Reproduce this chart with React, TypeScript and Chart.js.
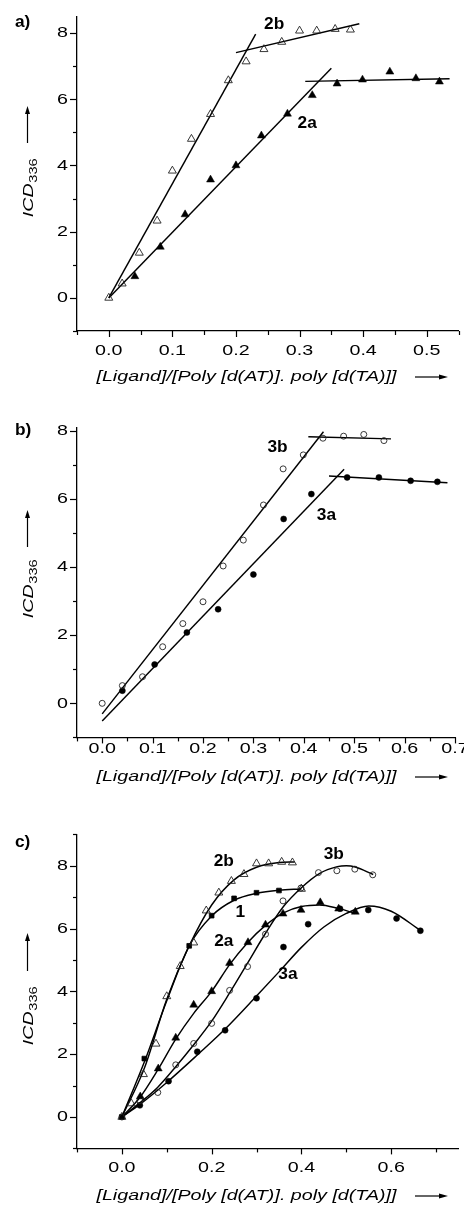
import React, { useEffect, useRef } from 'react';
import { Chart, registerables } from 'chart.js';
Chart.register(...registerables);

// ---------------- Data ----------------
// Compound 2b (open triangles)
const ratio2b = [0, 0.021, 0.048, 0.076, 0.1, 0.13, 0.16, 0.188, 0.216, 0.244, 0.272, 0.3, 0.327, 0.356, 0.38];
const cd2b = [0, 0.43, 1.36, 2.33, 3.84, 4.8, 5.55, 6.57, 7.14, 7.51, 7.73, 8.07, 8.07, 8.12, 8.1];
// Compound 2a (filled triangles)
const ratio2a = [0.041, 0.081, 0.12, 0.16, 0.2, 0.24, 0.281, 0.32, 0.359, 0.399, 0.442, 0.483, 0.52];
const cd2a = [0.65, 1.54, 2.52, 3.57, 4.0, 4.9, 5.56, 6.12, 6.47, 6.59, 6.83, 6.63, 6.53];
// Compound 3b (open circles)
const ratio3b = [0, 0.04, 0.08, 0.12, 0.16, 0.2, 0.24, 0.28, 0.32, 0.359, 0.399, 0.438, 0.479, 0.519, 0.559];
const cd3b = [0, 0.52, 0.78, 1.66, 2.34, 2.98, 4.03, 4.79, 5.82, 6.88, 7.29, 7.78, 7.84, 7.89, 7.71];
// Compound 3a (filled circles), panel b
const ratio3a = [0.04, 0.104, 0.168, 0.23, 0.3, 0.36, 0.415, 0.486, 0.549, 0.612, 0.665];
const cd3a = [0.37, 1.14, 2.08, 2.76, 3.78, 5.41, 6.14, 6.63, 6.63, 6.53, 6.5];
// Compound 3a, panel c
const cd3aC = [0.37, 1.14, 2.08, 2.76, 3.78, 5.41, 6.14, 6.63, 6.59, 6.32, 5.93];
// Compound 1 (filled squares; last point drawn as open triangle)
const ratio1 = [0, 0.05, 0.15, 0.2, 0.25, 0.3, 0.35, 0.4];
const cd1 = [0, 1.86, 5.45, 6.41, 6.96, 7.14, 7.21, 7.26];

// Panel a straight fits
const fit2bRiseX = [0, 0.231];
const fit2bRiseY = [0, 7.97];
const fit2bFlatX = [0.2, 0.394];
const fit2bFlatY = [7.41, 8.28];
const fit2aRiseX = [0, 0.35];
const fit2aRiseY = [0, 6.94];
const fit2aFlatX = [0.309, 0.536];
const fit2aFlatY = [6.54, 6.62];
// Panel b straight fits
const fit3bRiseX = [0, 0.439];
const fit3bRiseY = [-0.31, 7.97];
const fit3bFlatX = [0.409, 0.573];
const fit3bFlatY = [7.82, 7.76];
const fit3aRiseX = [0, 0.48];
const fit3aRiseY = [-0.52, 6.87];
const fit3aFlatX = [0.45, 0.685];
const fit3aFlatY = [6.67, 6.47];
// Panel c fitted curves
const cur2bX = [0, 0.05, 0.1, 0.15, 0.2, 0.25, 0.3, 0.35, 0.385];
const cur2bY = [0, 1.55, 3.75, 5.45, 6.75, 7.55, 7.95, 8.1, 8.12];
const cur1X = [0, 0.05, 0.1, 0.15, 0.2, 0.25, 0.3, 0.35, 0.4];
const cur1Y = [0, 1.75, 3.7, 5.45, 6.4, 6.9, 7.12, 7.22, 7.26];
const cur2aX = [0, 0.04, 0.08, 0.12, 0.16, 0.2, 0.24, 0.28, 0.32, 0.36, 0.4, 0.44, 0.48, 0.52];
const cur2aY = [0, 0.62, 1.5, 2.48, 3.3, 4.0, 4.85, 5.55, 6.1, 6.5, 6.7, 6.75, 6.65, 6.48];
const cur3bX = [0, 0.04, 0.08, 0.12, 0.16, 0.2, 0.24, 0.28, 0.32, 0.36, 0.4, 0.44, 0.48, 0.5, 0.52, 0.56];
const cur3bY = [0, 0.45, 0.95, 1.6, 2.3, 3.05, 3.95, 4.9, 5.85, 6.7, 7.3, 7.75, 7.97, 8.0, 7.96, 7.72];
const cur3aX = [0, 0.04, 0.1, 0.17, 0.23, 0.3, 0.35, 0.4, 0.45, 0.5, 0.55, 0.6, 0.666];
const cur3aY = [0, 0.4, 1.1, 2.0, 2.8, 3.85, 4.62, 5.4, 6.05, 6.48, 6.72, 6.55, 5.93];

// Tick values
const aXTicks = [0, 0.1, 0.2, 0.3, 0.4, 0.5];
const aXMinor = [-0.05, 0.05, 0.15, 0.25, 0.35, 0.45, 0.55];
const bXTicks = [0, 0.1, 0.2, 0.3, 0.4, 0.5, 0.6, 0.7];
const bXMinor = [-0.05, 0.05, 0.15, 0.25, 0.35, 0.45, 0.55, 0.65];
const cXTicks = [0, 0.2, 0.4, 0.6];
const cXMinor = [-0.1, 0.1, 0.3, 0.5, 0.7];
const yTicks = [0, 2, 4, 6, 8];
const yMinorAB = [-1, 1, 3, 5, 7];
const yMinorC = [-1, 1, 3, 5, 7, 9];

// Curve labels
const aLabelText = ['2b', '2a'];
const aLabelX = [0.26, 0.312];
const aLabelY = [8.25, 5.26];
const bLabelText = ['3b', '3a'];
const bLabelX = [0.348, 0.445];
const bLabelY = [7.49, 5.52];
const cLabelText = ['2b', '3b', '1', '2a', '3a'];
const cLabelX = [0.227, 0.472, 0.264, 0.227, 0.37];
const cLabelY = [8.12, 8.34, 6.52, 5.57, 4.52];

const xTitle = '[Ligand]/[Poly [d(AT)]. poly [d(TA)]]';

// ---------------- Helpers ----------------
const FAM = '"Liberation Sans", Arial, Helvetica, sans-serif';
const SX = 1.27;

const zip = (xs: number[], ys: number[]) => xs.map((x, i) => ({ x, y: ys[i] }));

function txt(ctx: CanvasRenderingContext2D, s: string, x: number, y: number, font: string,
  align: 'left' | 'center' | 'right', baseline: CanvasTextBaseline, sx: number) {
  ctx.save();
  ctx.font = font;
  ctx.textBaseline = baseline;
  ctx.textAlign = 'left';
  const w = ctx.measureText(s).width * sx;
  const x0 = align === 'center' ? x - w / 2 : align === 'right' ? x - w : x;
  ctx.translate(x0, y);
  ctx.scale(sx, 1);
  ctx.fillText(s, 0, 0);
  ctx.restore();
}

const markerOpen = (style: string, r: number) => ({
  pointStyle: style, pointRadius: r, pointBorderWidth: 0.9,
  pointBorderColor: '#222', pointBackgroundColor: 'rgba(0,0,0,0)', showLine: false,
});
const markerFill = (style: string, r: number) => ({
  pointStyle: style, pointRadius: r, pointBorderWidth: 0.5,
  pointBorderColor: '#000', pointBackgroundColor: '#000', showLine: false,
});
const lineDs = (xs: number[], ys: number[], smooth = false) => ({
  data: zip(xs, ys), showLine: true, pointRadius: 0, borderColor: '#000', borderWidth: 1.45,
  tension: smooth ? 0.4 : 0, cubicInterpolationMode: smooth ? 'monotone' : 'default',
});

type Spec = {
  w: number; h: number; top: number; padTop: number; padRight: number; xH: number;
  xMin: number; xMax: number; yMin: number; yMax: number;
  xMajor: number[]; xMinor: number[]; yMajor: number[]; yMinor: number[];
  xLabelY: number; xTitleY: number; yTitleCY: number; yArrowTop: number; yArrowBot: number;
  panel: string; panelY: number; labelText: string[]; labelX: number[]; labelY: number[];
  datasets: any[];
};

function makePlugin(spec: Spec) {
  return {
    id: 'deco',
    afterDraw(chart: any) {
      const ctx: CanvasRenderingContext2D = chart.ctx;
      const xs = chart.scales.x, ys = chart.scales.y;
      const ca = chart.chartArea;
      ctx.save();
      ctx.strokeStyle = '#000';
      ctx.fillStyle = '#000';
      ctx.lineWidth = 1.2;
      const tx = (vals: number[], len: number) => vals.forEach(v => {
        const p = Math.round(xs.getPixelForValue(v)) + 0.5;
        ctx.beginPath(); ctx.moveTo(p, ca.bottom); ctx.lineTo(p, ca.bottom + len); ctx.stroke();
      });
      const ty = (vals: number[], len: number) => vals.forEach(v => {
        const p = Math.round(ys.getPixelForValue(v)) + 0.5;
        ctx.beginPath(); ctx.moveTo(ca.left, p); ctx.lineTo(ca.left - len, p); ctx.stroke();
      });
      tx(spec.xMajor, 6); tx(spec.xMinor, 4);
      ty(spec.yMajor, 7); ty(spec.yMinor, 4);

      const tickFont = `15.5px ${FAM}`;
      spec.xMajor.forEach(v => txt(ctx, v.toFixed(1), xs.getPixelForValue(v), spec.xLabelY, tickFont, 'center', 'middle', SX));
      spec.yMajor.forEach(v => txt(ctx, String(v), ca.left - 9, ys.getPixelForValue(v), tickFont, 'right', 'middle', SX));

      // x title and arrow
      txt(ctx, xTitle, 246.5, spec.xTitleY, `italic 15.5px ${FAM}`, 'center', 'middle', SX);
      ctx.lineWidth = 1.2;
      ctx.beginPath(); ctx.moveTo(415, spec.xTitleY); ctx.lineTo(440, spec.xTitleY); ctx.stroke();
      ctx.beginPath(); ctx.moveTo(448, spec.xTitleY); ctx.lineTo(439, spec.xTitleY - 2.5); ctx.lineTo(439, spec.xTitleY + 2.5); ctx.closePath(); ctx.fill();

      // y title (rotated) and arrow
      ctx.save();
      ctx.translate(33, spec.yTitleCY);
      ctx.rotate(-Math.PI / 2);
      ctx.textBaseline = 'alphabetic';
      ctx.font = `italic 15.5px ${FAM}`;
      const w1 = ctx.measureText('ICD').width * SX;
      ctx.font = `11.5px ${FAM}`;
      const w2 = ctx.measureText('336').width * SX;
      const x0 = -(w1 + w2) / 2;
      txt(ctx, 'ICD', x0, 0, `italic 15.5px ${FAM}`, 'left', 'alphabetic', SX);
      txt(ctx, '336', x0 + w1 + 0.5, 4, `11.5px ${FAM}`, 'left', 'alphabetic', SX);
      ctx.restore();
      ctx.beginPath(); ctx.moveTo(27.5, spec.yArrowBot); ctx.lineTo(27.5, spec.yArrowTop + 7); ctx.stroke();
      ctx.beginPath(); ctx.moveTo(27.5, spec.yArrowTop); ctx.lineTo(25, spec.yArrowTop + 8); ctx.lineTo(30, spec.yArrowTop + 8); ctx.closePath(); ctx.fill();

      // panel label
      txt(ctx, spec.panel, 15, spec.panelY, `bold 16px ${FAM}`, 'left', 'middle', 1.08);
      // curve labels
      spec.labelText.forEach((s, i) => txt(ctx, s, xs.getPixelForValue(spec.labelX[i]), ys.getPixelForValue(spec.labelY[i]),
        `bold 16px ${FAM}`, 'center', 'middle', 1.08));
      ctx.restore();
    },
  };
}

function Panel({ spec }: { spec: Spec }) {
  const ref = useRef<HTMLCanvasElement>(null);
  useEffect(() => {
    if (!ref.current) return;
    const chart = new Chart(ref.current, {
      type: 'scatter',
      data: { datasets: spec.datasets },
      options: {
        animation: false,
        responsive: false,
        devicePixelRatio: 1,
        layout: { padding: { top: spec.padTop, right: spec.padRight, left: 0, bottom: 0 } },
        plugins: { legend: { display: false }, tooltip: { enabled: false } },
        scales: {
          x: {
            type: 'linear', min: spec.xMin, max: spec.xMax,
            grid: { display: false }, border: { display: true, color: '#000', width: 1.3 },
            ticks: { display: false },
            afterBuildTicks: (s: any) => { s.ticks = spec.xMajor.map(v => ({ value: v })); },
            afterFit: (s: any) => { s.height = spec.xH; },
          },
          y: {
            type: 'linear', min: spec.yMin, max: spec.yMax,
            grid: { display: false }, border: { display: true, color: '#000', width: 1.3 },
            ticks: { display: false },
            afterBuildTicks: (s: any) => { s.ticks = spec.yMajor.map(v => ({ value: v })); },
            afterFit: (s: any) => { s.width = 77; },
          },
        },
      } as any,
      plugins: [makePlugin(spec) as any],
    });
    return () => chart.destroy();
  }, [spec]);
  return (
    <canvas ref={ref} width={spec.w} height={spec.h}
      style={{ position: 'absolute', left: 0, top: spec.top, width: spec.w, height: spec.h }} />
  );
}

const n1 = ratio1.length;
const specA: Spec = {
  w: 464, h: 400, top: 0, padTop: 16.5, padRight: 1, xH: 69,
  xMin: -0.05, xMax: 0.55, yMin: -1, yMax: 8.5,
  xMajor: aXTicks, xMinor: aXMinor, yMajor: yTicks, yMinor: yMinorAB,
  xLabelY: 351, xTitleY: 377, yTitleCY: 188, yArrowTop: 106, yArrowBot: 143,
  panel: 'a)', panelY: 23, labelText: aLabelText, labelX: aLabelX, labelY: aLabelY,
  datasets: [
    { data: zip(ratio2b, cd2b), ...markerOpen('triangle', 4.6) },
    { data: zip(ratio2a, cd2a), ...markerFill('triangle', 4.6) },
    lineDs(fit2bRiseX, fit2bRiseY), lineDs(fit2bFlatX, fit2bFlatY),
    lineDs(fit2aRiseX, fit2aRiseY), lineDs(fit2aFlatX, fit2aFlatY),
  ],
};
const specB: Spec = {
  w: 480, h: 400, top: 400, padTop: 27.3, padRight: 25, xH: 62.6,
  xMin: -0.05, xMax: 0.7, yMin: -1, yMax: 8.1,
  xMajor: bXTicks, xMinor: bXMinor, yMajor: yTicks, yMinor: yMinorAB,
  xLabelY: 349, xTitleY: 377, yTitleCY: 189, yArrowTop: 110, yArrowBot: 147,
  panel: 'b)', panelY: 31, labelText: bLabelText, labelX: bLabelX, labelY: bLabelY,
  datasets: [
    { data: zip(ratio3b, cd3b), ...markerOpen('circle', 3) },
    { data: zip(ratio3a, cd3a), ...markerFill('circle', 3) },
    lineDs(fit3bRiseX, fit3bRiseY), lineDs(fit3bFlatX, fit3bFlatY),
    lineDs(fit3aRiseX, fit3aRiseY), lineDs(fit3aFlatX, fit3aFlatY),
  ],
};
const specC: Spec = {
  w: 464, h: 405, top: 800, padTop: 34.3, padRight: 1, xH: 56.6,
  xMin: -0.1, xMax: 0.75, yMin: -1, yMax: 9,
  xMajor: cXTicks, xMinor: cXMinor, yMajor: yTicks, yMinor: yMinorC,
  xLabelY: 368, xTitleY: 396, yTitleCY: 216, yArrowTop: 133, yArrowBot: 171,
  panel: 'c)', panelY: 42.5, labelText: cLabelText, labelX: cLabelX, labelY: cLabelY,
  datasets: [
    { data: zip(ratio2b, cd2b), ...markerOpen('triangle', 4.6) },
    {
      data: zip(ratio1, cd1), showLine: false, pointBorderWidth: 0.8, pointBorderColor: '#000',
      pointStyle: (c: any) => (c.dataIndex === n1 - 1 ? 'triangle' : 'rect'),
      pointRadius: (c: any) => (c.dataIndex === n1 - 1 ? 4.6 : 3.3),
      pointBackgroundColor: (c: any) => (c.dataIndex === n1 - 1 ? 'rgba(0,0,0,0)' : '#000'),
    },
    { data: zip(ratio2a, cd2a), ...markerFill('triangle', 4.6) },
    { data: zip(ratio3b, cd3b), ...markerOpen('circle', 3) },
    { data: zip(ratio3a, cd3aC), ...markerFill('circle', 3) },
    lineDs(cur2bX, cur2bY, true), lineDs(cur1X, cur1Y, true), lineDs(cur2aX, cur2aY, true),
    lineDs(cur3bX, cur3bY, true), lineDs(cur3aX, cur3aY, true),
  ],
};

export default function App() {
  return (
    <div style={{ position: 'absolute', left: 0, top: 0, width: 464, height: 1205, overflow: 'hidden', background: '#fff' }}>
      <Panel spec={specA} />
      <Panel spec={specB} />
      <Panel spec={specC} />
    </div>
  );
}
